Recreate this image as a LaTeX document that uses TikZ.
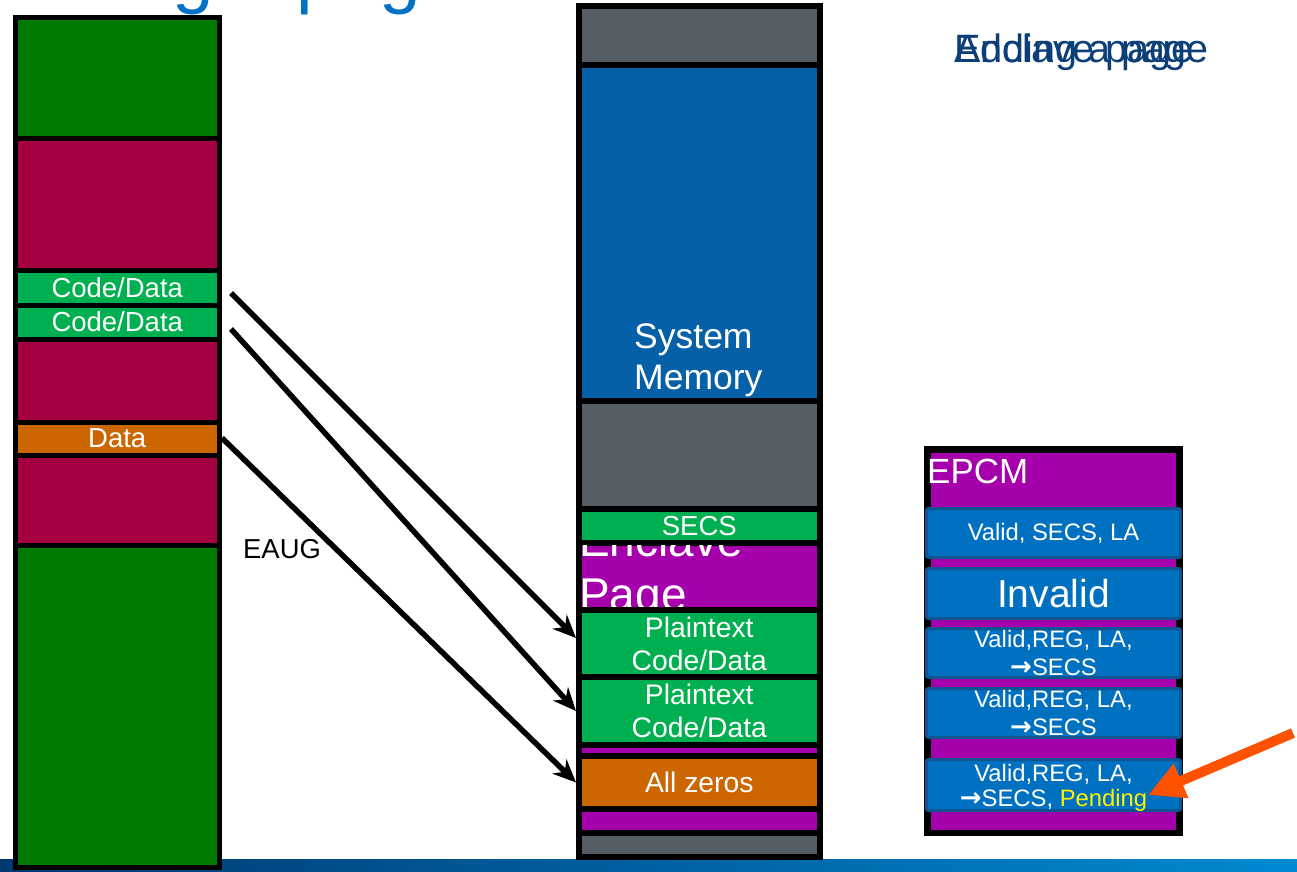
\documentclass[tikz,border=0pt]{standalone}
\usepackage{fontspec}
\setmainfont{Liberation Sans}
\newfontfamily\arrowfont{DejaVu Sans}
\usetikzlibrary{arrows.meta}

\definecolor{dkgreen}{RGB}{0,122,0}
\definecolor{maroon}{RGB}{165,0,68}
\definecolor{ltgreen}{RGB}{0,176,80}
\definecolor{burnt}{RGB}{204,102,0}
\definecolor{slate}{RGB}{84,94,100}
\definecolor{sysblue}{RGB}{6,96,168}
\definecolor{violet}{RGB}{166,0,172}
\definecolor{epcmfill}{RGB}{0,112,192}
\definecolor{epcmline}{RGB}{16,84,146}
\definecolor{hotorange}{RGB}{255,82,0}
\definecolor{titleblue}{RGB}{0,113,197}
\definecolor{navytext}{RGB}{12,62,120}
\definecolor{bandleft}{RGB}{0,56,112}
\definecolor{bandright}{RGB}{0,138,210}

\newcommand\fsz[2]{\fontsize{#1}{#2}\selectfont}
\newcommand\toarrow{{\arrowfont\bfseries\fontsize{26}{26}\selectfont →}}

\begin{document}
\begin{tikzpicture}[x=1pt,y=-1pt,
  lblk/.style={rectangle,draw=black,line width=5pt,inner sep=0pt,
    minimum width=204.5pt,text=white,font=\fsz{27.5}{30}},
  mblk/.style={rectangle,draw=black,line width=6pt,inner sep=0pt,
    minimum width=240.5pt,text=white,font=\fsz{28.3}{33},align=center},
  ebox/.style={rectangle,rounded corners=2pt,draw=epcmline,line width=3pt,
    fill=epcmfill,inner sep=0pt,minimum width=254pt,text=white,
    font=\fsz{23.8}{28},align=center},
  maparrow/.style={line width=5.5pt,-{Stealth[length=23pt,width=20pt]}},
  pointer/.style={line width=10pt,draw=hotorange,
    -{Triangle[length=36pt,width=35pt]}},
]
\useasboundingbox (0,0) rectangle (1297,871);
\clip (0,0) rectangle (1297,871);

% slide title, mostly above the visible area
\node[anchor=base west,inner sep=0pt,text=titleblue,font=\fsz{74.5}{80}]
  (title) at (-18,-1) {Adding a page};

% overlapping build-step captions
\node[anchor=base west,inner sep=0pt,text=navytext,font=\fsz{39.5}{46}]
  (capA) at (954,62) {Enclave page};
\node[anchor=base west,inner sep=0pt,text=navytext,font=\fsz{39.5}{46}]
  (capB) at (954,62) {Adding a page};

% footer band
\shade[left color=bandleft,right color=bandright] (0,859) rectangle (1297,871);

% ---------- application address space ----------
\node[lblk,fill=dkgreen,minimum height=120.5pt] (lg1)  at (117.25,77.75) {};
\node[lblk,fill=maroon, minimum height=132.5pt] (lm1)  at (117.25,204.25) {};
\node[lblk,fill=ltgreen,minimum height=34.5pt]  (lcd1) at (117.25,287.75) {Code/Data};
\node[lblk,fill=ltgreen,minimum height=34pt]    (lcd2) at (117.25,322) {Code/Data};
\node[lblk,fill=maroon, minimum height=83pt]    (lm2)  at (117.25,380.5) {};
\node[lblk,fill=burnt,  minimum height=33pt]    (ldat) at (117.25,438.5) {Data};
\node[lblk,fill=maroon, minimum height=90.5pt]  (lm3)  at (117.25,500.25) {};
\node[lblk,fill=dkgreen,minimum height=321.5pt] (lg2)  at (117.25,706.25) {};

% ---------- physical memory ----------
\node[mblk,fill=slate,  minimum height=59.5pt] (mg1)   at (699.25,35.25) {};
\node[mblk,fill=sysblue,minimum height=336pt]  (mmem)  at (699.25,233) {};
\node[anchor=north west,inner sep=0pt,text=white,align=left,font=\fsz{35.5}{41}]
  (memlabel) at (634,324) {System\\Memory};
\node[mblk,fill=slate,  minimum height=108pt]  (mg2)   at (699.25,455) {};
\node[mblk,fill=ltgreen,minimum height=33.5pt,font=\fsz{27.5}{30}]
  (msecs) at (699.25,525.75) {SECS};
\node[mblk,fill=violet, minimum height=67.5pt] (mpage) at (699.25,576.25) {};
\begin{scope}
  \clip (582,545) rectangle (817,607);
  \node[anchor=north west,inner sep=0pt,text=white,align=left,font=\fsz{46}{54}]
    (pagelabel) at (579,523) {Enclave\\Page};
\end{scope}
\node[mblk,fill=ltgreen,minimum height=67pt] (mpt1)  at (699.25,643.5) {Plaintext\\Code/Data};
\node[mblk,fill=ltgreen,minimum height=68pt] (mpt2)  at (699.25,711) {Plaintext\\Code/Data};
\node[mblk,fill=violet, minimum height=11pt] (mp2)   at (699.25,750.5) {};
\node[mblk,fill=burnt,  minimum height=53pt] (mzero) at (699.25,782.5) {All zeros};
\node[mblk,fill=violet, minimum height=24pt] (mp3)   at (699.25,821) {};
\node[mblk,fill=slate,  minimum height=24pt] (mg3)   at (699.25,845) {};

% ---------- EPCM ----------
\node[rectangle,draw=black,line width=6.5pt,fill=violet,inner sep=0pt,
  minimum width=252.3pt,minimum height=383.5pt] (epcm) at (1053.4,641.25) {};
\node[anchor=base west,inner sep=0pt,text=white,font=\fsz{35}{40}]
  (epcmlabel) at (927,483) {EPCM};
\node[ebox,minimum height=49pt] (b1) at (1053.5,533) {Valid, SECS, LA};
\node[ebox,minimum height=50pt,font=\fsz{39}{44}] (b2) at (1053.5,593.5) {Invalid};
\node[ebox,minimum height=49pt] (b3) at (1053.5,653) {Valid,REG, LA,\\\toarrow SECS};
\node[ebox,minimum height=49pt] (b4) at (1053.5,713) {Valid,REG, LA,\\\toarrow SECS};
\node[ebox,minimum height=51pt,font=\fsz{23.8}{25}] (b5) at (1053.5,785)
  {Valid,REG, LA,\\\smash{\toarrow SECS, \textcolor{yellow}{Pending}}};

% ---------- EAUG mappings ----------
\coordinate (s1) at (231,293);
\coordinate (s2) at (231,329);
\coordinate (s3) at (222,438);
\draw[maparrow] (s1) -- ([yshift=5.5pt]mpt1.west);
\draw[maparrow] (s2) -- (mpt2.west);
\draw[maparrow] (s3) -- (mzero.west);
\node[anchor=base west,inner sep=0pt,text=black,font=\fsz{27.4}{30}]
  (eaug) at (243,558) {EAUG};

% pointer to the pending state
\coordinate (ptail) at (1293,733);
\coordinate (phead) at (1148,795);
\draw[pointer] (ptail) -- (phead);
\end{tikzpicture}
\end{document}
